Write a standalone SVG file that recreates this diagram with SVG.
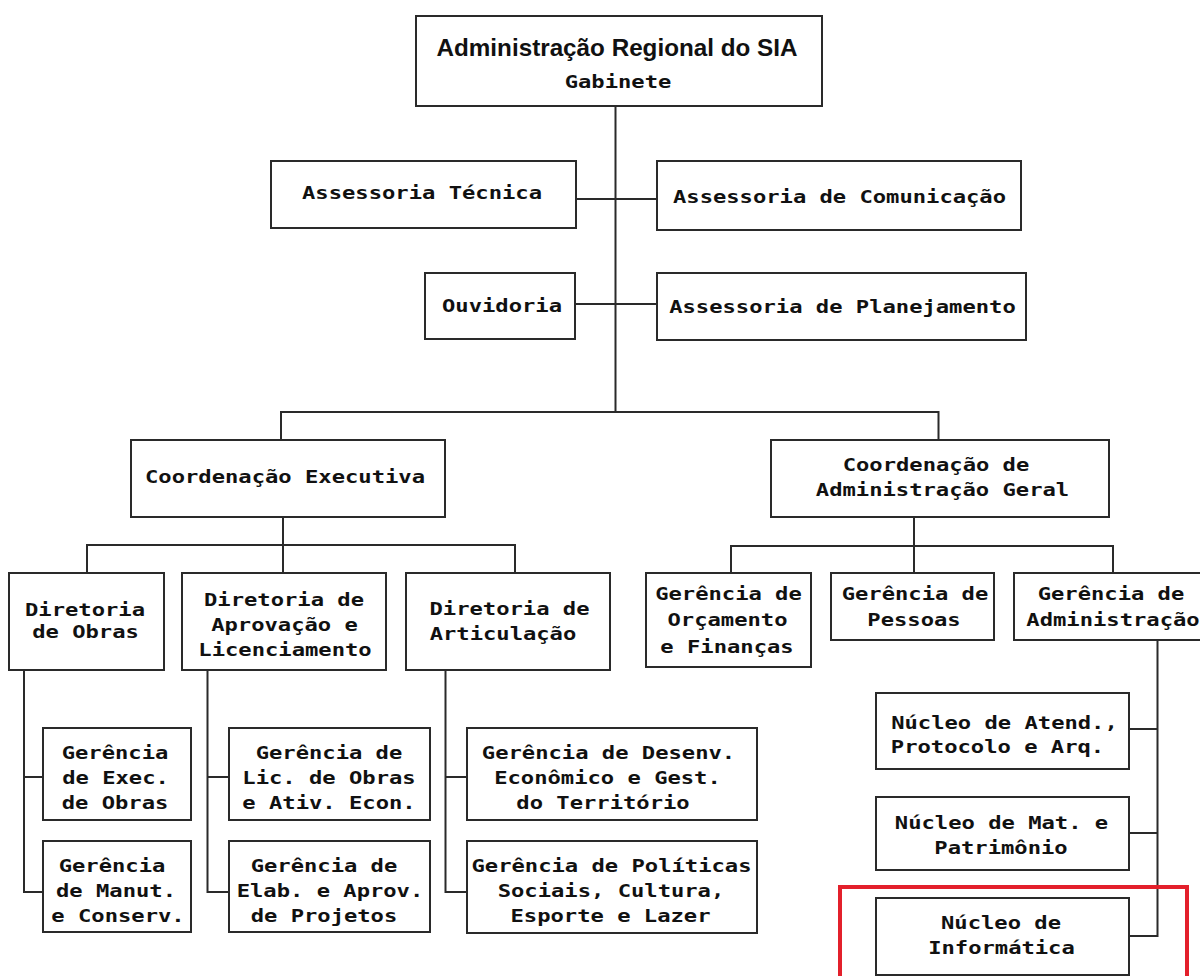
<svg xmlns="http://www.w3.org/2000/svg" width="1200" height="976" viewBox="0 0 1200 976">
<style>
  .box { fill: #ffffff; stroke: #2a2a2a; stroke-width: 2; }
  .t { font-family: "DejaVu Sans Mono", "Liberation Mono", monospace; font-weight: bold; font-size: 18.5px; fill: #111111; text-anchor: middle; }
  .title { font-family: "Liberation Sans", Arial, sans-serif; font-weight: bold; font-size: 24px; fill: #111111; text-anchor: middle; }
  .conn path { fill: none; stroke: #2a2a2a; stroke-width: 2; }
  .hl { fill: none; stroke: #e3202b; stroke-width: 4; }
</style>
<rect x="0" y="0" width="1200" height="976" fill="#ffffff"/>

<g id="connectors" class="conn">
  <path d="M615.5 106 V412"/>
  <path d="M576 199 H657"/>
  <path d="M575 304 H657"/>
  <path d="M281 440 V412 H938.5 V440"/>
  <path d="M283 517 V573"/>
  <path d="M87 573 V545 H515 V573"/>
  <path d="M914 517 V573"/>
  <path d="M731 573 V546 H1113 V573"/>
  <path d="M24 670 V892 H43 M24 777 H43"/>
  <path d="M207.5 670 V892 H229 M207.5 777 H229"/>
  <path d="M445.5 670 V892 H467 M445.5 777 H467"/>
  <path d="M1157.5 640 V936 H1129 M1129 729 H1157.5 M1129 833 H1157.5"/>
</g>

<g id="n-gabinete">
  <rect class="box" x="416" y="16" width="406" height="90"/>
  <text class="title" x="617" y="56" textLength="361" lengthAdjust="spacingAndGlyphs">Administração Regional do SIA</text>
  <text class="t" x="618" y="88" textLength="106.6" lengthAdjust="spacingAndGlyphs">Gabinete</text>
</g>

<g id="n-ass-tecnica">
  <rect class="box" x="271" y="161" width="305" height="67"/>
  <text class="t" x="422" y="199" textLength="240" lengthAdjust="spacingAndGlyphs">Assessoria Técnica</text>
</g>

<g id="n-ass-comunicacao">
  <rect class="box" x="657" y="161" width="364" height="69"/>
  <text class="t" x="839.5" y="203" textLength="333" lengthAdjust="spacingAndGlyphs">Assessoria de Comunicação</text>
</g>

<g id="n-ouvidoria">
  <rect class="box" x="425" y="273" width="150" height="66"/>
  <text class="t" x="502" y="312" textLength="120" lengthAdjust="spacingAndGlyphs">Ouvidoria</text>
</g>

<g id="n-ass-planejamento">
  <rect class="box" x="657" y="273" width="369" height="67"/>
  <text class="t" x="842.5" y="313" textLength="346.6" lengthAdjust="spacingAndGlyphs">Assessoria de Planejamento</text>
</g>

<g id="n-coord-exec">
  <rect class="box" x="131" y="440" width="314" height="77"/>
  <text class="t" x="285" y="483" textLength="280" lengthAdjust="spacingAndGlyphs">Coordenação Executiva</text>
</g>

<g id="n-coord-adm">
  <rect class="box" x="771" y="440" width="338" height="77"/>
  <text class="t" x="936" y="471" textLength="186.6" lengthAdjust="spacingAndGlyphs">Coordenação de</text>
  <text class="t" x="942.5" y="496" textLength="253.3" lengthAdjust="spacingAndGlyphs">Administração Geral</text>
</g>

<g id="n-dir-obras">
  <rect class="box" x="9" y="573" width="155" height="97"/>
  <text class="t" x="85" y="616" textLength="120" lengthAdjust="spacingAndGlyphs">Diretoria</text>
  <text class="t" x="85.5" y="638" textLength="106.6" lengthAdjust="spacingAndGlyphs">de Obras</text>
</g>

<g id="n-dir-aprovacao">
  <rect class="box" x="182" y="573" width="204" height="97"/>
  <text class="t" x="284" y="606" textLength="160" lengthAdjust="spacingAndGlyphs">Diretoria de</text>
  <text class="t" x="284.5" y="631" textLength="146.6" lengthAdjust="spacingAndGlyphs">Aprovação e</text>
  <text class="t" x="285" y="656" textLength="173.3" lengthAdjust="spacingAndGlyphs">Licenciamento</text>
</g>

<g id="n-dir-articulacao">
  <rect class="box" x="406" y="573" width="204" height="97"/>
  <text class="t" x="509.5" y="615" textLength="160" lengthAdjust="spacingAndGlyphs">Diretoria de</text>
  <text class="t" x="503" y="640" textLength="146.6" lengthAdjust="spacingAndGlyphs">Articulação</text>
</g>

<g id="n-ger-orcamento">
  <rect class="box" x="646" y="573" width="165" height="94"/>
  <text class="t" x="728.5" y="600" textLength="146.6" lengthAdjust="spacingAndGlyphs">Gerência de</text>
  <text class="t" x="727.5" y="626" textLength="120" lengthAdjust="spacingAndGlyphs">Orçamento</text>
  <text class="t" x="727" y="653" textLength="133.3" lengthAdjust="spacingAndGlyphs">e Finanças</text>
</g>

<g id="n-ger-pessoas">
  <rect class="box" x="831" y="573" width="163" height="67"/>
  <text class="t" x="915" y="600" textLength="146.6" lengthAdjust="spacingAndGlyphs">Gerência de</text>
  <text class="t" x="914" y="626" textLength="93.3" lengthAdjust="spacingAndGlyphs">Pessoas</text>
</g>

<g id="n-ger-administracao">
  <rect class="box" x="1014" y="573" width="200" height="67"/>
  <text class="t" x="1111" y="600" textLength="146.6" lengthAdjust="spacingAndGlyphs">Gerência de</text>
  <text class="t" x="1113" y="626" textLength="173.3" lengthAdjust="spacingAndGlyphs">Administração</text>
</g>

<g id="n-ger-exec-obras">
  <rect class="box" x="43" y="728" width="148" height="92"/>
  <text class="t" x="115" y="759" textLength="106.6" lengthAdjust="spacingAndGlyphs">Gerência</text>
  <text class="t" x="115.5" y="784" textLength="106.6" lengthAdjust="spacingAndGlyphs">de Exec.</text>
  <text class="t" x="115" y="809" textLength="106.6" lengthAdjust="spacingAndGlyphs">de Obras</text>
</g>

<g id="n-ger-manut">
  <rect class="box" x="43" y="841" width="148" height="91"/>
  <text class="t" x="112" y="872" textLength="106.6" lengthAdjust="spacingAndGlyphs">Gerência</text>
  <text class="t" x="116" y="897" textLength="120" lengthAdjust="spacingAndGlyphs">de Manut.</text>
  <text class="t" x="118" y="922" textLength="133.3" lengthAdjust="spacingAndGlyphs">e Conserv.</text>
</g>

<g id="n-ger-lic">
  <rect class="box" x="229" y="728" width="201" height="92"/>
  <text class="t" x="329" y="759" textLength="146.6" lengthAdjust="spacingAndGlyphs">Gerência de</text>
  <text class="t" x="329" y="784" textLength="173.3" lengthAdjust="spacingAndGlyphs">Lic. de Obras</text>
  <text class="t" x="329" y="809" textLength="173.3" lengthAdjust="spacingAndGlyphs">e Ativ. Econ.</text>
</g>

<g id="n-ger-elab">
  <rect class="box" x="229" y="841" width="201" height="91"/>
  <text class="t" x="324" y="872" textLength="146.6" lengthAdjust="spacingAndGlyphs">Gerência de</text>
  <text class="t" x="330" y="897" textLength="186.6" lengthAdjust="spacingAndGlyphs">Elab. e Aprov.</text>
  <text class="t" x="324" y="922" textLength="146.6" lengthAdjust="spacingAndGlyphs">de Projetos</text>
</g>

<g id="n-ger-desenv">
  <rect class="box" x="467" y="728" width="290" height="92"/>
  <text class="t" x="608.5" y="759" textLength="253.3" lengthAdjust="spacingAndGlyphs">Gerência de Desenv.</text>
  <text class="t" x="607.5" y="784" textLength="226.6" lengthAdjust="spacingAndGlyphs">Econômico e Gest.</text>
  <text class="t" x="603" y="809" textLength="173.3" lengthAdjust="spacingAndGlyphs">do Território</text>
</g>

<g id="n-ger-politicas">
  <rect class="box" x="467" y="841" width="290" height="92"/>
  <text class="t" x="611.5" y="872" textLength="280" lengthAdjust="spacingAndGlyphs">Gerência de Políticas</text>
  <text class="t" x="611" y="897" textLength="226.6" lengthAdjust="spacingAndGlyphs">Sociais, Cultura,</text>
  <text class="t" x="610.5" y="922" textLength="200" lengthAdjust="spacingAndGlyphs">Esporte e Lazer</text>
</g>

<g id="n-nucleo-atend">
  <rect class="box" x="876" y="693" width="253" height="76"/>
  <text class="t" x="1004.5" y="729" textLength="226.6" lengthAdjust="spacingAndGlyphs">Núcleo de Atend.,</text>
  <text class="t" x="997.5" y="753" textLength="213.3" lengthAdjust="spacingAndGlyphs">Protocolo e Arq.</text>
</g>

<g id="n-nucleo-mat">
  <rect class="box" x="876" y="797" width="253" height="73"/>
  <text class="t" x="1001.5" y="829" textLength="213.3" lengthAdjust="spacingAndGlyphs">Núcleo de Mat. e</text>
  <text class="t" x="1001" y="854" textLength="133.3" lengthAdjust="spacingAndGlyphs">Patrimônio</text>
</g>

<g id="n-nucleo-info">
  <rect class="box" x="876" y="898" width="253" height="77"/>
  <text class="t" x="1001" y="929" textLength="120" lengthAdjust="spacingAndGlyphs">Núcleo de</text>
  <text class="t" x="1001.5" y="954" textLength="146.6" lengthAdjust="spacingAndGlyphs">Informática</text>
</g>

<g id="highlight">
  <rect class="hl" x="840" y="887" width="347" height="100"/>
</g>
</svg>
